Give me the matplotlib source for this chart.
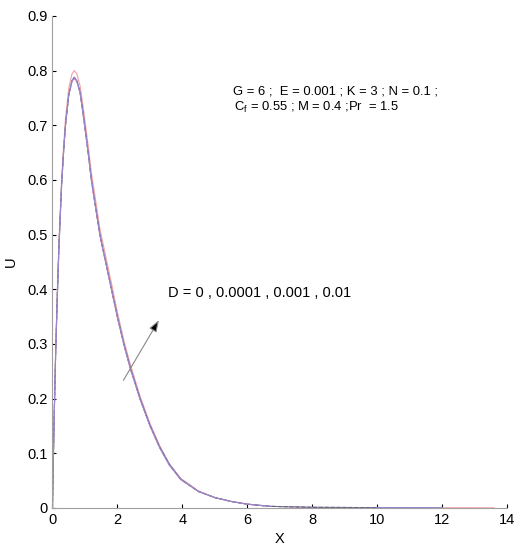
import matplotlib
matplotlib.use("Agg")
import matplotlib.pyplot as plt

plt.rcParams["font.family"] = ["Liberation Sans", "DejaVu Sans"]

# X grid shared by the curves
x_all = [0, 0.02, 0.05, 0.1, 0.15, 0.2, 0.28, 0.34, 0.4, 0.5, 0.6, 0.67, 0.75,
         0.85, 0.97, 1.1, 1.2, 1.33, 1.46, 1.64, 1.82, 2.0, 2.2, 2.4, 2.7, 3.0,
         3.3, 3.6, 3.95, 4.5, 5.0, 5.5, 6.0, 6.7, 8.0, 10.0, 12.0, 13.6]

u_d0 = [0, 0.07, 0.165, 0.295, 0.40, 0.49, 0.60, 0.66, 0.712, 0.767, 0.794, 0.80,
        0.794, 0.772, 0.722, 0.662, 0.612, 0.562, 0.511, 0.46, 0.41, 0.358, 0.306,
        0.262, 0.204, 0.155, 0.114, 0.081, 0.054, 0.031, 0.019, 0.012, 0.007,
        0.003, 0.0012, 0.0006, 0.0004, 0.0003]
u_d1 = [0, 0.07, 0.16, 0.29, 0.39, 0.48, 0.59, 0.65, 0.70, 0.755, 0.782, 0.788,
        0.782, 0.761, 0.71, 0.65, 0.60, 0.55, 0.50, 0.45, 0.40, 0.35, 0.30,
        0.256, 0.20, 0.152, 0.112, 0.08, 0.053, 0.03, 0.019, 0.012, 0.007,
        0.003, 0.0012, 0.0006, 0.0004]
u_d2 = [0, 0.07, 0.16, 0.29, 0.39, 0.48, 0.59, 0.65, 0.70, 0.755, 0.781, 0.787,
        0.781, 0.760, 0.709, 0.649, 0.599, 0.549, 0.499, 0.449, 0.399, 0.349, 0.299,
        0.255, 0.199, 0.151, 0.111, 0.079, 0.052, 0.03, 0.019, 0.012, 0.007,
        0.003, 0.0012, 0.0006]
u_d3 = [0, 0.07, 0.16, 0.29, 0.39, 0.48, 0.59, 0.65, 0.70, 0.754, 0.780, 0.786,
        0.780, 0.759, 0.708, 0.648, 0.598, 0.548, 0.498, 0.448, 0.398, 0.348, 0.298,
        0.254, 0.198, 0.150, 0.110, 0.078, 0.052, 0.03, 0.019, 0.012, 0.007,
        0.003]

curves = [u_d0, u_d1, u_d2, u_d3]
colors = ["#f3a0a0", "#8080d8", "#666666", "#9f86cc"]
styles = ["-", "-", "--", "-"]

fig = plt.figure(figsize=(5.26, 5.5), dpi=100)
ax = fig.add_axes([0.0998, 0.0764, 0.8642, 0.8946])

for u, c, ls in zip(curves, colors, styles):
    ax.plot(x_all[:len(u)], u, color=c, lw=0.8, ls=ls)

ax.set_xlim(0, 14)
ax.set_ylim(0, 0.9)
ax.set_xticks(range(0, 15, 2))
ax.set_yticks([0, 0.1, 0.2, 0.3, 0.4, 0.5, 0.6, 0.7, 0.8, 0.9])
ax.set_yticklabels(["0", "0.1", "0.2", "0.3", "0.4", "0.5", "0.6", "0.7", "0.8", "0.9"])
ax.tick_params(direction="in", length=3, width=0.8, colors="black", labelsize=10.5)
for side in ["top", "right"]:
    ax.spines[side].set_visible(False)
for side in ["left", "bottom"]:
    ax.spines[side].set_color("#a0a0a0")
    ax.spines[side].set_linewidth(0.8)

ax.set_xlabel("X", fontsize=10.5, labelpad=4)
ax.set_ylabel("U", fontsize=10.5, labelpad=7)

ax.text(5.56, 0.761, "G = 6 ;  E = 0.001 ; K = 3 ; N = 0.1 ;", fontsize=9.4, va="center")
ax.text(5.6, 0.733, "C$_\\mathregular{f}$ = 0.55 ; M = 0.4 ;Pr  = 1.5", fontsize=9.4, va="center")
ax.text(3.56, 0.394, "D = 0 , 0.0001 , 0.001 , 0.01", fontsize=10.5, va="center")

ax.annotate("", xy=(3.32, 0.348), xytext=(2.14, 0.229),
            arrowprops=dict(arrowstyle="-|>,head_length=0.7,head_width=0.25",
                            fc="black", ec="#888888", lw=0.8))

fig.savefig("out.png", dpi=100)
